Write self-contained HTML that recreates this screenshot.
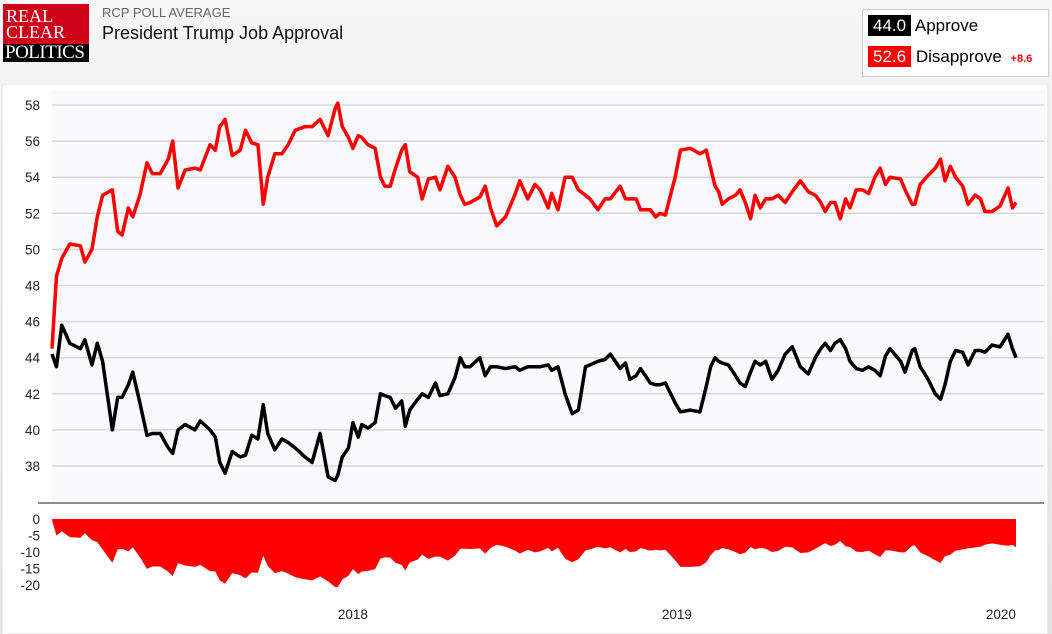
<!DOCTYPE html>
<html><head><meta charset="utf-8"><style>
body{margin:0;width:1052px;height:634px;overflow:hidden;font-family:"Liberation Sans",sans-serif;background:linear-gradient(#f6f6f6,#e4e4e4);position:relative}
.abs{position:absolute}
</style></head><body>
<div class="abs" style="left:3px;top:4px;width:86px;height:58px;background:#d0021b;font-family:'Liberation Serif',serif;color:#fff;font-size:18px;line-height:16px">
 <div style="padding:4px 0 0 3px">REAL<br>CLEAR</div>
 <div class="abs" style="left:0;top:40px;width:84px;height:18px;background:#000;font-size:19px;line-height:18px;padding-left:2px;letter-spacing:-0.5px">POLITICS</div>
</div>
<div class="abs" style="left:102px;top:5px;font-size:13px;color:#666">RCP POLL AVERAGE</div>
<div class="abs" style="left:102px;top:23px;font-size:18px;color:#111">President Trump Job Approval</div>
<div class="abs" style="left:862px;top:9px;width:185px;height:66px;background:#fff;border:1px solid #ccc">
 <div class="abs" style="left:5px;top:6px;font-size:17px"><span style="background:#000;color:#fff;padding:1px 5px">44.0</span> Approve</div>
 <div class="abs" style="left:5px;top:37px;font-size:17px;white-space:nowrap"><span style="background:#f00;color:#fff;padding:1px 5px">52.6</span> Disapprove <span style="color:#f00;font-size:11px;font-weight:bold;margin-left:4px">+8.6</span></div>
</div>
<svg class="abs" style="left:0;top:84px" width="1052" height="550">
<rect x="2" y="0" width="1046" height="550" fill="#fff" stroke="#ddd"/>
<g id="g" transform="translate(0,-84)"></g>
</svg>
<script>
const days=[0,5,11,20,32,37,45,51,57,68,74,79,86,91,99,107,113,122,131,136,142,150,161,167,178,184,189,195,203,212,218,225,232,238,243,251,259,266,274,285,293,302,311,319,322,327,334,339,345,349,356,364,370,375,381,387,394,398,403,412,417,424,432,437,446,454,460,465,471,482,488,494,501,511,522,527,536,544,550,559,563,570,578,586,593,601,606,615,623,629,640,646,651,658,663,674,680,685,691,702,708,719,730,737,742,747,751,755,762,770,775,781,787,792,798,804,811,818,826,834,843,852,860,866,871,877,882,888,894,899,906,913,920,927,933,939,944,956,961,969,972,978,987,995,1001,1006,1012,1018,1026,1032,1040,1046,1051,1059,1068,1077,1082,1086];
const disapprove=[44.5,48.5,49.5,50.3,50.2,49.3,50,51.8,53,53.3,51,50.8,52.3,51.8,53,54.8,54.2,54.2,55,56,53.4,54.4,54.5,54.4,55.8,55.5,56.8,57.2,55.2,55.5,56.6,55.9,55.8,52.5,54,55.3,55.3,55.8,56.6,56.8,56.8,57.2,56.3,57.8,58.1,56.8,56.2,55.6,56.3,56.2,55.8,55.6,54,53.5,53.5,54.5,55.5,55.8,54.3,54,52.8,53.9,54,53.3,54.6,54,53,52.5,52.6,52.9,53.5,52.3,51.3,51.8,53.1,53.8,52.8,53.6,53.3,52.3,53.1,52.2,54,54,53.3,53,52.8,52.2,52.8,52.8,53.5,52.8,52.8,52.8,52.2,52.2,51.8,52,51.9,54,55.5,55.6,55.3,55.5,54.5,53.5,53.2,52.5,52.8,53,53.3,52.6,51.7,53,52.3,52.8,52.8,53,52.6,53.2,53.8,53.2,53,52.6,52.1,52.6,52.6,51.7,52.8,52.3,53.3,53.3,53.1,54,54.5,53.6,54,53.9,53.3,52.5,52.5,53.6,54.1,54.5,55,53.8,54.6,54,53.5,52.5,53,52.8,52.1,52.1,52.4,53.4,52.3,52.6];
const approve=[44.2,43.5,45.8,44.8,44.5,45,43.6,44.8,43.8,40,41.8,41.8,42.5,43.2,41.5,39.7,39.8,39.8,39,38.7,40,40.3,40,40.5,40,39.6,38.2,37.6,38.8,38.5,38.6,39.7,39.5,41.4,39.8,38.9,39.5,39.3,39,38.5,38.2,39.8,37.4,37.2,37.5,38.5,39,40.4,39.6,40.3,40.1,40.4,42,41.9,41.8,41.2,41.6,40.2,41.1,41.7,42,41.8,42.6,41.9,42,42.9,44,43.5,43.5,44,43,43.5,43.5,43.4,43.5,43.3,43.5,43.5,43.5,43.6,43.3,43.5,42,40.9,41.1,43.5,43.6,43.8,43.9,44.2,43.4,43.7,42.8,43,43.4,42.6,42.5,42.5,42.6,41.5,41,41.1,41,42.4,43.5,44,43.8,43.7,43.6,43,42.6,42.4,43.2,43.8,43.6,43.8,42.8,43.3,44.2,44.6,43.5,43.1,44,44.5,44.8,44.4,44.8,45,44.5,43.8,43.4,43.3,43.5,43.3,43,44.1,44.5,43.8,43.2,44.4,44.5,43.5,42.8,42,41.7,42.5,43.8,44.4,44.3,43.6,44.4,44.4,44.3,44.7,44.6,45.3,44.5,44.0];
const yTicks=[58,56,54,52,50,48,46,44,42,40,38];
const spreadTicks=[0,-5,-10,-15,-20];
const xTickLabels=["2018","2019","2020"];
const xTickDays=[339,704,1069];
const NS="http://www.w3.org/2000/svg";
const g=document.getElementById('g');
const x=d=>52+d*324/365;
const y=v=>105+(58-v)*18.05;
const ys=v=>519-v*3.3;
function mk(t,a,txt){const e=document.createElementNS(NS,t);for(const k in a)e.setAttribute(k,a[k]);if(txt!==undefined)e.textContent=txt;g.appendChild(e);return e;}
let e=mk('rect',{x:52,y:90,width:993,height:412,fill:'#fafafc'});


yTicks.forEach(v=>{
 let l=mk('line',{x1:52,x2:1044,y1:y(v),y2:y(v),stroke:'#d8d8d8','stroke-width':1.5});
 
 
 let t=mk('text',{x:40,y:y(v)+5,'text-anchor':'end','font-size':13.5,fill:'#222'},v);
 
 
});
e=mk('line',{x1:38,x2:1044,y1:503,y2:503,stroke:'#666','stroke-width':1.5});


spreadTicks.forEach(v=>{
 let t=mk('text',{x:40,y:ys(v)+5,'text-anchor':'end','font-size':13.5,fill:'#222'},v);
 
 
});
xTickLabels.forEach((s,i)=>{
 let t=mk('text',{x:x(xTickDays[i]),y:619,'text-anchor':'middle','font-size':13.5,fill:'#222'},s);
 
 
});
let ap='M'+x(days[0])+','+ys(0);
days.forEach((d,i)=>{ap+=' L'+x(d)+','+ys(approve[i]-disapprove[i]);});
ap+=' L'+x(days[days.length-1])+','+ys(0)+'Z';
e=mk('path',{d:ap,fill:'#f00'});


function line(arr,col,name){
 const d=days.map((dd,i)=>(i?'L':'M')+x(dd)+','+y(arr[i])).join(' ');
 const p=mk('path',{d:d,fill:'none',stroke:col,'stroke-width':3.5,'stroke-linejoin':'round'});
 
 
}
line(disapprove,'#f00','disapprove-line');
line(approve,'#000','approve-line');
</script>
</body></html>
